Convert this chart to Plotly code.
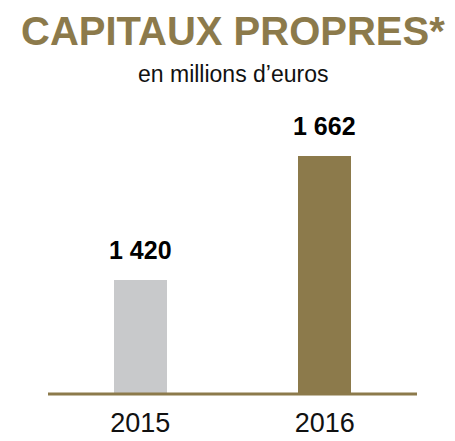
import plotly.graph_objects as go

years = ["2015", "2016"]
values = [1420, 1662]
value_labels = ["1 420", "1 662"]
bar_colors = ["#C8C9CB", "#8C7A4B"]
title_text = "CAPITAUX PROPRES*"
subtitle_text = "en millions d\u2019euros"

GOLD = "#8C7A4B"
FONT = "Liberation Sans, Arial, sans-serif"

W, H = 455, 441
plot_left, plot_right = 48, 417
plot_top, plot_bottom = 100, 394

def py(pix):
    return (plot_bottom - pix) / (plot_bottom - plot_top)

fig = go.Figure()
fig.add_trace(go.Bar(
    x=years, y=values,
    marker=dict(color=bar_colors, line=dict(width=0)),
    width=0.288,
    hoverinfo="skip",
))

for i, (v, lab) in enumerate(zip(values, value_labels)):
    fig.add_annotation(x=i, y=v, xref="x", yref="y", text="<b>" + lab + "</b>",
                       showarrow=False, yanchor="bottom", yshift=14,
                       font=dict(family=FONT, size=25, color="#000000"))

fig.add_annotation(x=0.5, y=py(31), xref="paper", yref="paper", text="<b>" + title_text + "</b>",
                   showarrow=False, yanchor="middle",
                   font=dict(family=FONT, size=40, color=GOLD))
fig.add_annotation(x=0.5, y=py(74), xref="paper", yref="paper", text=subtitle_text,
                   showarrow=False, yanchor="middle",
                   font=dict(family=FONT, size=23, color="#111111"))

# baseline
fig.add_shape(type="line", xref="paper", yref="paper", x0=0, x1=1, y0=0, y1=0,
              line=dict(color=GOLD, width=3), layer="above")

fig.update_layout(
    template="none",
    width=W, height=H,
    margin=dict(l=plot_left, r=W - plot_right, t=plot_top, b=H - plot_bottom, autoexpand=False),
    paper_bgcolor="white", plot_bgcolor="white",
    showlegend=False,
    bargap=0,
    xaxis=dict(type="category", range=[-0.5, 1.5], automargin=False,
               showgrid=False, zeroline=False, showline=False,
               ticks="outside", ticklen=5, tickcolor="rgba(0,0,0,0)",
               tickfont=dict(family=FONT, size=27, color="#111111")),
    yaxis=dict(range=[1197.5, 1771.3], automargin=False, visible=False,
               showgrid=False, zeroline=False),
)

fig.write_html("out.html", config={"displayModeBar": False, "staticPlot": True},
               post_script="document.body.style.margin='0';")
